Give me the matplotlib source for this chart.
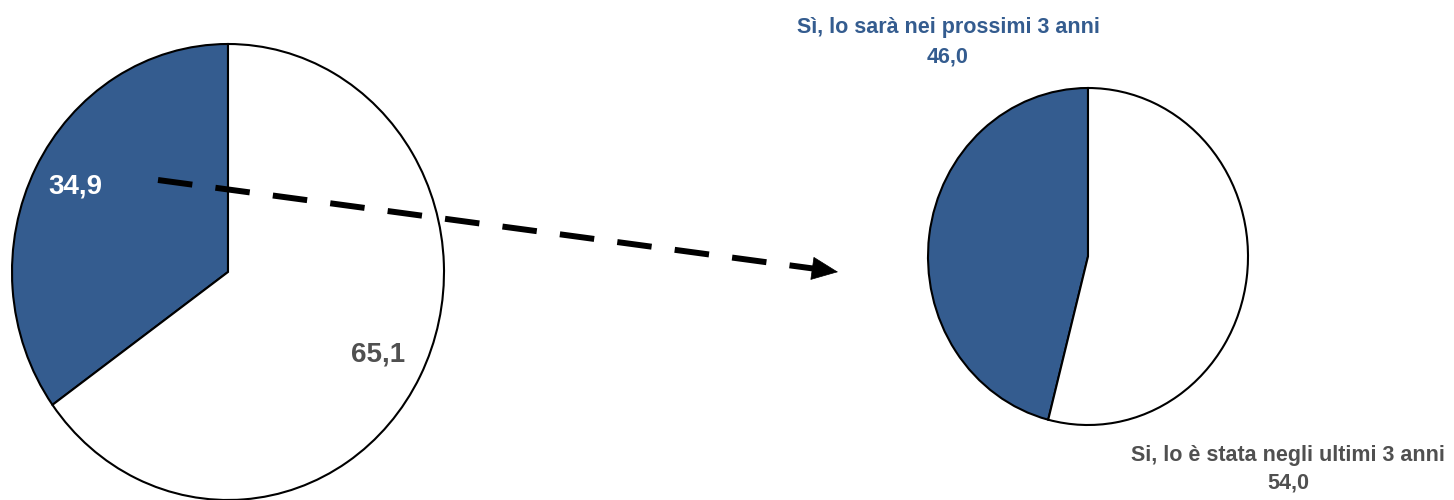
import matplotlib
matplotlib.use("Agg")
import matplotlib.pyplot as plt

# data
left_labels = ["Sì", "No"]
left_values = [34.9, 65.1]
right_labels = ["Sì, lo sarà nei prossimi 3 anni", "Si, lo è stata negli ultimi 3 anni"]
right_values = [46.0, 54.0]

BLUE = "#345C8F"
GREY = "#505050"
FONT = ["Liberation Sans Narrow", "Liberation Sans", "DejaVu Sans"]

W, H = 1454, 500
fig = plt.figure(figsize=(W / 100, H / 100), dpi=100)


def px_axes(x0, y0, x1, y1):
    """axes from a pixel box (top-left origin)"""
    return fig.add_axes([x0 / W, 1 - y1 / H, (x1 - x0) / W, (y1 - y0) / H])


def draw_pie(ax, values):
    wedges, _ = ax.pie(values, colors=[BLUE, "white"], startangle=90,
                       counterclock=True, radius=1,
                       wedgeprops=dict(edgecolor="black", linewidth=1.5))
    for w in wedges:
        w.set_clip_on(False)
    ax.set_aspect("auto")   # the original pies are slightly stretched
    ax.set_xlim(-1, 1)
    ax.set_ylim(-1, 1)
    ax.axis("off")


draw_pie(px_axes(12, 44, 444, 500), left_values)
draw_pie(px_axes(928, 88, 1248, 425), right_values)

# overlay for labels and the arrow, in pixel coordinates
ax = fig.add_axes([0, 0, 1, 1], zorder=5)
ax.set_xlim(0, W)
ax.set_ylim(H, 0)
ax.axis("off")
ax.patch.set_alpha(0)

fmt = lambda v: f"{v:.1f}".replace(".", ",")
bold = dict(fontweight="bold", family=FONT, ha="center", va="center")

ax.text(75, 187, fmt(left_values[0]), color="white", fontsize=20, **bold)
ax.text(378, 355, fmt(left_values[1]), color=GREY, fontsize=20, **bold)

ax.text(948, 28, right_labels[0], color=BLUE, fontsize=15.5, **bold)
ax.text(948, 57, fmt(right_values[0]), color=BLUE, fontsize=15.5, **bold)
ax.text(1288, 455, right_labels[1], color=GREY, fontsize=15.5, **bold)
ax.text(1288, 483, fmt(right_values[1]), color=GREY, fontsize=15.5, **bold)

# dashed arrow linking the two pies
ax.plot([158, 813], [180, 268.5], color="black", linewidth=4.3,
        dashes=(5.8, 3.9), dash_capstyle="butt")
ax.annotate("", xy=(838, 272), xytext=(813, 268.5),
            arrowprops=dict(arrowstyle="-|>,head_length=0.9,head_width=0.4",
                            mutation_scale=20, color="black", linewidth=0.5,
                            shrinkA=0, shrinkB=0))

fig.savefig("out.png", dpi=100)
